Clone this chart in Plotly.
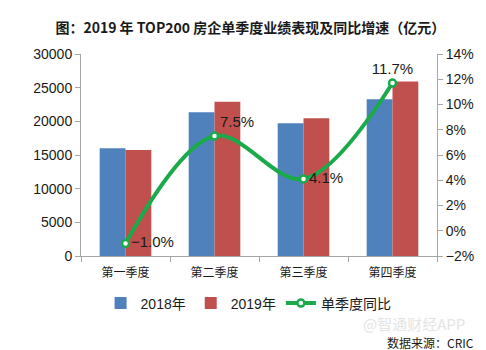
import plotly.graph_objects as go

categories = ["第一季度", "第二季度", "第三季度", "第四季度"]
sales_2018 = [16000, 21350, 19700, 23270]
sales_2019 = [15750, 22900, 20450, 25900]
yoy_growth = [-1.0, 7.5, 4.1, 11.7]
yoy_labels = ["−1.0%", "7.5%", "4.1%", "11.7%"]

BLUE = "#4F81BD"
RED = "#C0504D"
GREEN = "#1AAA4A"
TXT = "#1a1a1a"
AX = "#A6A6A6"

fig = go.Figure()
fig.add_trace(go.Bar(x=categories, y=sales_2018, name="2018年", marker_color=BLUE,
                     marker_line_width=0))
fig.add_trace(go.Bar(x=categories, y=sales_2019, name="2019年", marker_color=RED,
                     marker_line_width=0))
fig.add_trace(go.Scatter(
    x=categories, y=yoy_growth, name="单季度同比", yaxis="y2",
    mode="lines+markers+text", line=dict(color=GREEN, width=4, shape="spline", smoothing=1.0),
    marker=dict(size=7, color="white", line=dict(color=GREEN, width=2.5)),
    text=yoy_labels,
    textposition=["middle right", "top right", "middle right", "top center"],
    textfont=dict(family="Liberation Sans, Arial", size=15, color=TXT),
    cliponaxis=False,
))

fig.update_layout(
    width=486, height=350,
    margin=dict(l=81, r=46, t=54, b=94),
    paper_bgcolor="white", plot_bgcolor="white",
    barmode="group", bargap=0.42, bargroupgap=0,
    font=dict(family="Liberation Sans, Arial, Noto Sans CJK SC", size=14, color=TXT),
    title=dict(text="<b>图：2019 年 TOP200 房企单季度业绩表现及同比增速（亿元）</b>",
               x=0.515, xanchor="center", y=0.92, yanchor="middle",
               font=dict(family="Noto Sans CJK SC", size=14, color=TXT)),
    xaxis=dict(showline=True, linecolor=AX, linewidth=1, ticks="outside", tickson="boundaries",
               ticklen=5, tickcolor=AX, ticklabelstandoff=6,
               tickfont=dict(family="Noto Sans CJK SC", size=12, color=TXT),
               showgrid=False),
    yaxis=dict(range=[0, 30000], dtick=5000, tickformat="d", showline=True, linecolor=AX,
               ticks="outside", ticklen=5, tickcolor=AX, showgrid=False, zeroline=False,
               tickfont=dict(size=14, color=TXT)),
    yaxis2=dict(range=[-2, 14], dtick=2, ticksuffix="%", overlaying="y", side="right",
                showline=True, linecolor=AX, ticks="outside", ticklen=5, tickcolor=AX,
                showgrid=False, zeroline=False, tickfont=dict(size=14, color=TXT)),
    legend=dict(orientation="h", x=0.055, xanchor="left", y=-0.235, yanchor="middle",
                font=dict(family="Liberation Sans, Noto Sans CJK SC", size=14, color=TXT),
                itemwidth=30, traceorder="normal"),
    showlegend=True,
)

fig.add_annotation(text="@智通财经APP", xref="paper", yref="paper", x=1.085, y=-0.335,
                   xanchor="right", yanchor="middle", showarrow=False,
                   font=dict(family="Noto Sans CJK SC", size=15, color="#E4E4E4"))
fig.add_annotation(text="数据来源：CRIC", xref="paper", yref="paper", x=1.11, y=-0.43,
                   xanchor="right", yanchor="middle", showarrow=False,
                   font=dict(family="Noto Sans CJK SC", size=12, color=TXT))

fig.write_html("out.html")
